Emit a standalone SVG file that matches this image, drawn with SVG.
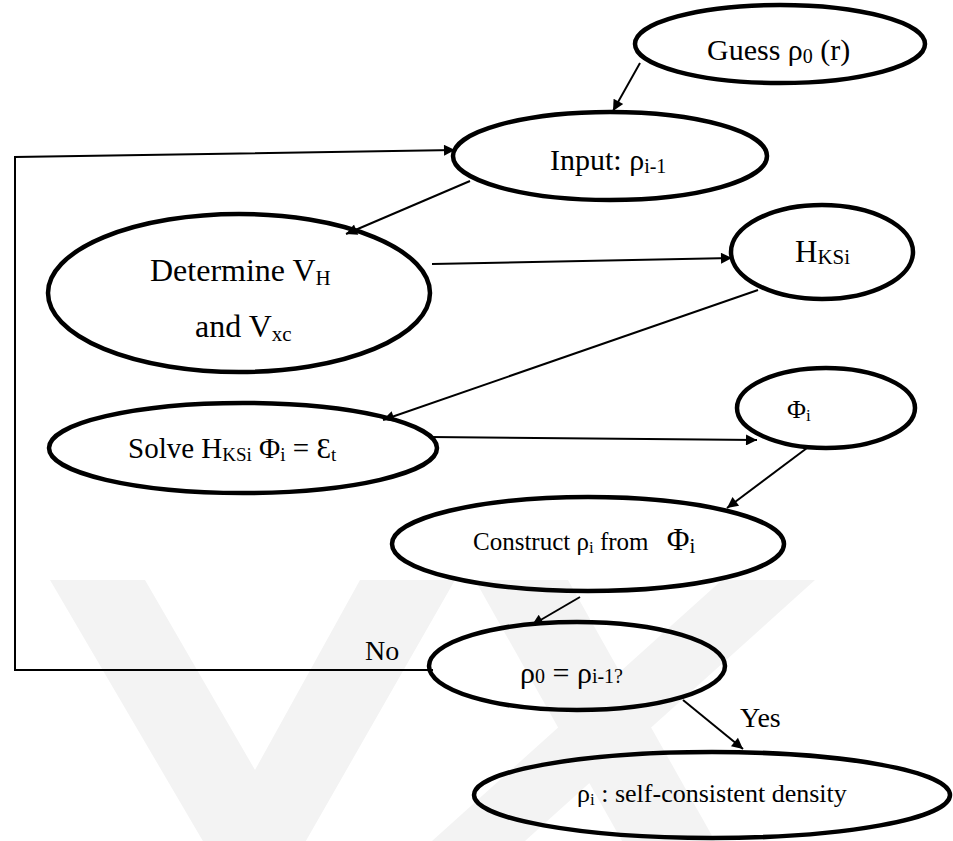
<svg xmlns="http://www.w3.org/2000/svg" width="953" height="841" viewBox="0 0 953 841">
<style>
.node ellipse{fill:none;stroke:#000;stroke-width:4.5}
.lbl{font-family:"Liberation Serif","Times New Roman",serif;fill:#000}
.conn line,.conn polyline{fill:none;stroke:#000;stroke-width:2}
.wm{fill:#f3f3f3}
</style>
<defs>
<marker id="ah" viewBox="0 0 10 10" refX="10" refY="5" markerWidth="15" markerHeight="11" markerUnits="userSpaceOnUse" orient="auto"><path d="M0,0 L10,5 L0,10 z" fill="#000"/></marker>
</defs>
<rect width="953" height="841" fill="#fff"/>
<g id="watermark">
<polygon class="wm" points="50,580 145,580 255,770 360,580 455,580 255,930"/>
<polygon class="wm" points="722,580 815,580 525,841 432,841"/>
<polygon class="wm" points="475,580 568,580 715,841 622,841"/>
</g>
<g class="conn" id="connectors">
<line x1="640" y1="63" x2="613" y2="111" marker-end="url(#ah)"/>
<polyline points="433,670 15,670 15,157 455,150" marker-end="url(#ah)"/>
<line x1="470" y1="181" x2="346" y2="234" marker-end="url(#ah)"/>
<line x1="432" y1="264" x2="732" y2="258" marker-end="url(#ah)"/>
<line x1="758" y1="290" x2="383" y2="420" marker-end="url(#ah)"/>
<line x1="430" y1="437" x2="757" y2="440" marker-end="url(#ah)"/>
<line x1="807" y1="448" x2="727" y2="508" marker-end="url(#ah)"/>
<line x1="580" y1="597" x2="532" y2="625" marker-end="url(#ah)"/>
<line x1="683" y1="700" x2="743" y2="749" marker-end="url(#ah)"/>
<text class="lbl" x="365" y="660" font-size="28">No</text>
<text class="lbl" x="740" y="727" font-size="28">Yes</text>
</g>
<g id="guess" class="node">
<ellipse cx="780" cy="44" rx="145" ry="39"/>
<text class="lbl" x="707" y="60" font-size="30">Guess ρ<tspan font-size="20" dy="3">0</tspan><tspan dy="-3"> (r)</tspan></text>
</g>
<g id="input" class="node">
<ellipse cx="610" cy="156" rx="157" ry="44"/>
<text class="lbl" x="550" y="170" font-size="30">Input: ρ<tspan font-size="20" dy="3">i-1</tspan></text>
</g>
<g id="determine" class="node">
<ellipse cx="239" cy="293" rx="191" ry="79"/>
<text class="lbl" x="150" y="281" font-size="32">Determine V<tspan font-size="21" dy="4">H</tspan></text>
<text class="lbl" x="195" y="337" font-size="32">and V<tspan font-size="21" dy="4">xc</tspan></text>
</g>
<g id="hksi" class="node">
<ellipse cx="822" cy="252" rx="91" ry="47"/>
<text class="lbl" x="795" y="262" font-size="31">H<tspan font-size="21" dy="2">KSi</tspan></text>
</g>
<g id="solve" class="node">
<ellipse cx="243" cy="448" rx="194" ry="45"/>
<text class="lbl" x="128" y="458" font-size="29">Solve H<tspan font-size="19" dy="3">KSi</tspan><tspan dy="-3"> Φ</tspan><tspan font-size="19" dy="3">i</tspan><tspan dy="-3"> = Ɛ</tspan><tspan font-size="19" dy="3">t</tspan></text>
</g>
<g id="phi" class="node">
<ellipse cx="826" cy="408" rx="89" ry="40"/>
<text class="lbl" x="787" y="418" font-size="26">Φ<tspan font-size="17" dy="3">i</tspan></text>
</g>
<g id="construct" class="node">
<ellipse cx="588" cy="544" rx="196" ry="47"/>
<text class="lbl" x="473" y="550" font-size="25">Construct ρ<tspan font-size="17" dy="3">i</tspan><tspan dy="-3"> from </tspan><tspan font-size="31" dx="12">Φ</tspan><tspan font-size="21" dy="3">i</tspan></text>
</g>
<g id="decision" class="node">
<ellipse cx="577" cy="666" rx="148" ry="44"/>
<text class="lbl" x="520" y="683" font-size="30">ρ<tspan font-size="20">0</tspan><tspan> = ρ</tspan><tspan font-size="20">i-1?</tspan></text>
</g>
<g id="result" class="node">
<ellipse cx="712" cy="795" rx="238" ry="43"/>
<text class="lbl" x="577" y="802" font-size="26">ρ<tspan font-size="17" dy="3">i</tspan><tspan dy="-3"> : self-consistent density</tspan></text>
</g>
</svg>
